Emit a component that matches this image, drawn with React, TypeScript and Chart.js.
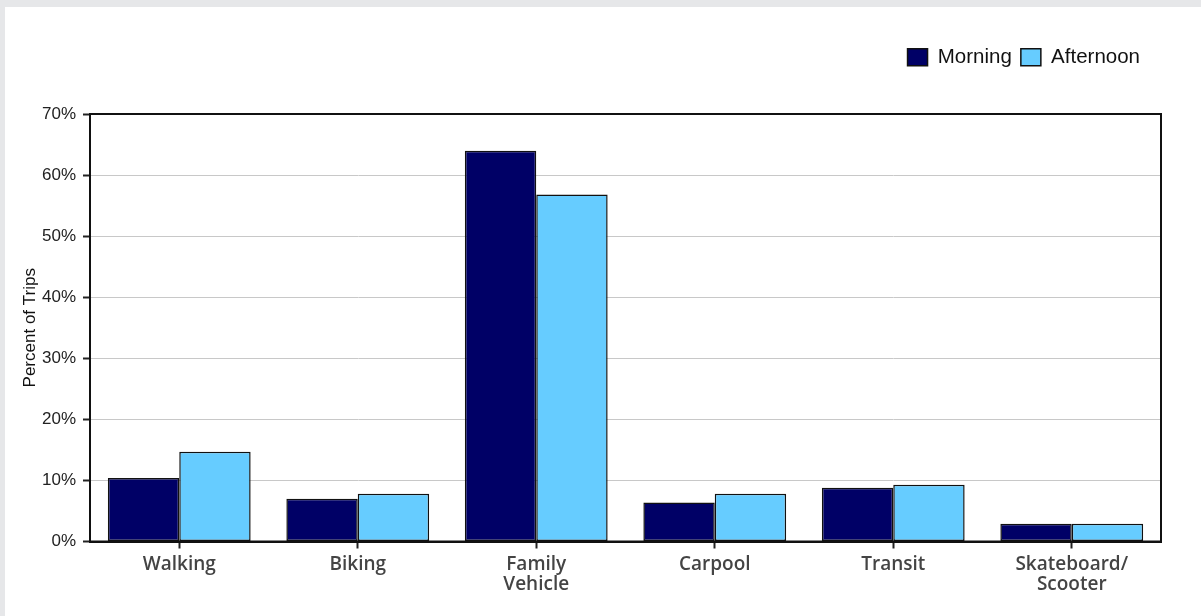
import React, { useEffect, useRef } from "react";
import { Chart, registerables } from "chart.js";

Chart.register(...registerables);

const categories: (string | string[])[] = [
  "Walking",
  "Biking",
  ["Family", "Vehicle"],
  "Carpool",
  "Transit",
  ["Skateboard/", "Scooter"],
];
const morning = [10.4, 7.0, 64.0, 6.4, 8.8, 2.9];
const afternoon = [14.7, 7.8, 56.8, 7.8, 9.3, 2.9];
const seriesNames = ["Morning", "Afternoon"];
const yMax = 70;
const yStep = 10;
const yTitle = "Percent of Trips";

export default function App() {
  const ref = useRef<HTMLCanvasElement | null>(null);

  useEffect(() => {
    if (!ref.current) return;
    const framePlugin = {
      id: "frame",
      beforeInit(chart: any) {
        const legend = chart.legend;
        if (legend) {
          const fit = legend.fit;
          legend.fit = function () {
            fit.call(legend);
            this.height += 36.5;
          };
        }
      },
      afterLayout(chart: any) {
        const legend = chart.legend;
        if (legend) {
          legend.right -= 12;
          legend.width -= 12;
        }
      },
      afterDraw(chart: any) {
        const { ctx, chartArea } = chart;
        ctx.save();
        ctx.strokeStyle = "#111";
        ctx.lineWidth = 2;
        ctx.strokeRect(
          chartArea.left,
          chartArea.top,
          chartArea.right - chartArea.left,
          chartArea.bottom - chartArea.top
        );
        ctx.restore();
      },
    };

    const chart = new Chart(ref.current, {
      type: "bar",
      data: {
        labels: categories,
        datasets: [
          {
            label: seriesNames[0],
            data: morning,
            backgroundColor: "#000066",
            borderColor: "#111",
            borderWidth: 1.5,
            borderSkipped: false,
          },
          {
            label: seriesNames[1],
            data: afternoon,
            backgroundColor: "#66ccff",
            borderColor: "#111",
            borderWidth: 1.5,
            borderSkipped: false,
          },
        ],
      },
      options: {
        animation: false,
        responsive: true,
        maintainAspectRatio: false,
        layout: { padding: { top: 31, right: 40, left: 0, bottom: 0 } },
        datasets: {
          bar: { categoryPercentage: 0.8, barPercentage: 1.0 },
        },
        plugins: {
          legend: {
            position: "top",
            align: "end",
            labels: {
              boxWidth: 20,
              boxHeight: 17,
              padding: 9,
              color: "#111",
              font: { family: "Liberation Sans", size: 20.5 },
            },
          },
          tooltip: { enabled: false },
        },
        scales: {
          x: {
            grid: {
              display: true,
              drawOnChartArea: false,
              drawTicks: true,
              tickLength: 7,
              tickColor: "#222",
              tickWidth: 2,
              offset: false,
            },
            border: { color: "#111", width: 2 },
            ticks: {
              color: "#444",
              padding: 6,
              font: { family: "Open Sans", size: 19, weight: 600, lineHeight: 1.05 },
              maxRotation: 0,
              autoSkip: false,
            },
            afterFit(scale: any) {
              scale.height = 74.5;
            },
          },
          y: {
            min: 0,
            max: yMax,
            grid: {
              color: "#c8c8c8",
              lineWidth: 1,
              tickLength: 7,
              tickColor: "#222",
              tickWidth: 2,
            },
            border: { color: "#111", width: 2 },
            ticks: {
              stepSize: yStep,
              color: "#222",
              padding: 7,
              font: { family: "Liberation Sans", size: 17 },
              callback: (v: any) => v + "%",
            },
            title: {
              display: true,
              text: yTitle,
              color: "#111",
              font: { family: "Liberation Sans", size: 17 },
              padding: { top: 15, bottom: 0 },
            },
            afterFit(scale: any) {
              scale.width = 85;
            },
          },
        },
      },
      plugins: [framePlugin],
    });
    return () => chart.destroy();
  }, []);

  return (
    <div
      style={{
        position: "absolute",
        left: 0,
        top: 0,
        width: 1201,
        height: 616,
        background: "#e6e7e9",
        overflow: "hidden",
      }}
    >
      <div
        style={{
          position: "absolute",
          left: 5,
          top: 7,
          width: 1196,
          height: 609,
          background: "#ffffff",
        }}
      >
        <canvas ref={ref} />
      </div>
    </div>
  );
}
